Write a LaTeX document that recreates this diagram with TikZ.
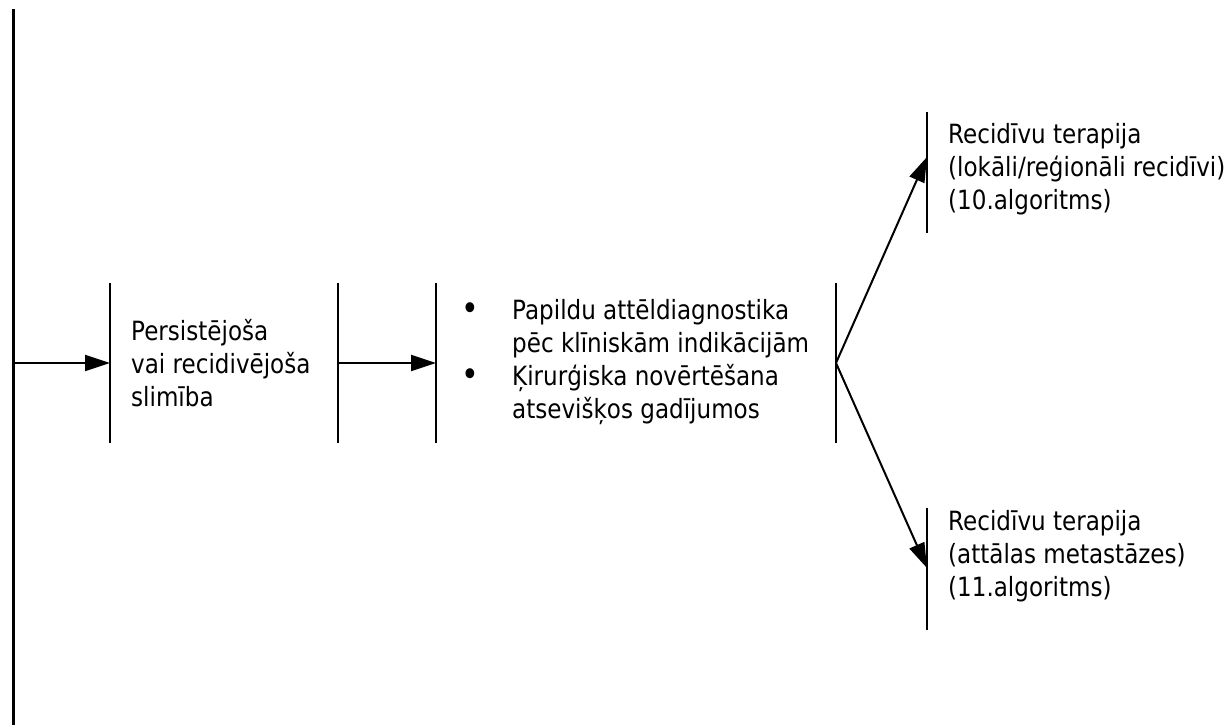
\documentclass[tikz,border=0pt]{standalone}
\usepackage{fontspec}
\setmainfont{DejaVu Sans}[FakeStretch=0.87]
\usetikzlibrary{arrows.meta}
\newcommand{\bul}{\llap{\raisebox{-0.5pt}{\scalebox{1.3}{•}}\hspace{33pt}}}
\begin{document}
\begin{tikzpicture}[x=1pt,y=-1pt,
  lbl/.style={anchor=west, inner sep=0pt, align=left,
              font=\fontsize{26.5}{33}\selectfont},
  barnode/.style={draw=none, inner sep=0pt, minimum width=0pt},
  bar/.style={line width=2pt},
  stem/.style={line width=3pt},
  flow/.style={line width=2pt, -{Triangle[length=25pt,width=16pt]}}]
\useasboundingbox (0,0) rectangle (1227,725);

% main stem on the left
\coordinate (stemtop) at (13,9);
\coordinate (stembot) at (13,725);
\coordinate (stemout) at (13,363);
\draw[stem] (stemtop) -- (stembot);

% vertical bars
\node[barnode, minimum height=160pt] (b1) at (110,363) {};
\node[barnode, minimum height=160pt] (b2) at (338,363) {};
\node[barnode, minimum height=160pt] (b3) at (436,363) {};
\node[barnode, minimum height=160pt] (b4) at (836,363) {};
\node[barnode, minimum height=121pt] (b5) at (927,172.5) {};
\node[barnode, minimum height=122pt] (b6) at (927,569) {};
\foreach \b in {b1,b2,b3,b4,b5,b6}
  \draw[bar] (\b.north) -- (\b.south);

% texts
\node[lbl] (t1) at (131,363) {Persistējoša\\vai recidivējoša\\slimība};
\node[lbl] (t2) at (512,362.5) {\bul Papildu attēldiagnostika\\
  pēc klīniskām indikācijām\\
  \bul Ķirurģiska novērtēšana\\
  atsevišķos gadījumos};
\node[lbl] (t3) at (948,169) {Recidīvu terapija\\(lokāli/reģionāli recidīvi)\\(10.algoritms)};
\node[lbl] (t4) at (948,556) {Recidīvu terapija\\(attālas metastāzes)\\(11.algoritms)};

% connectors
\coordinate (b5in) at (927,157);
\coordinate (b6in) at (927,568);
\draw[flow] (stemout) -- (b1.center);
\draw[flow] (b2.center) -- (b3.center);
\draw[flow] (b4.center) -- (b5in);
\draw[flow] (b4.center) -- (b6in);
\end{tikzpicture}
\end{document}
